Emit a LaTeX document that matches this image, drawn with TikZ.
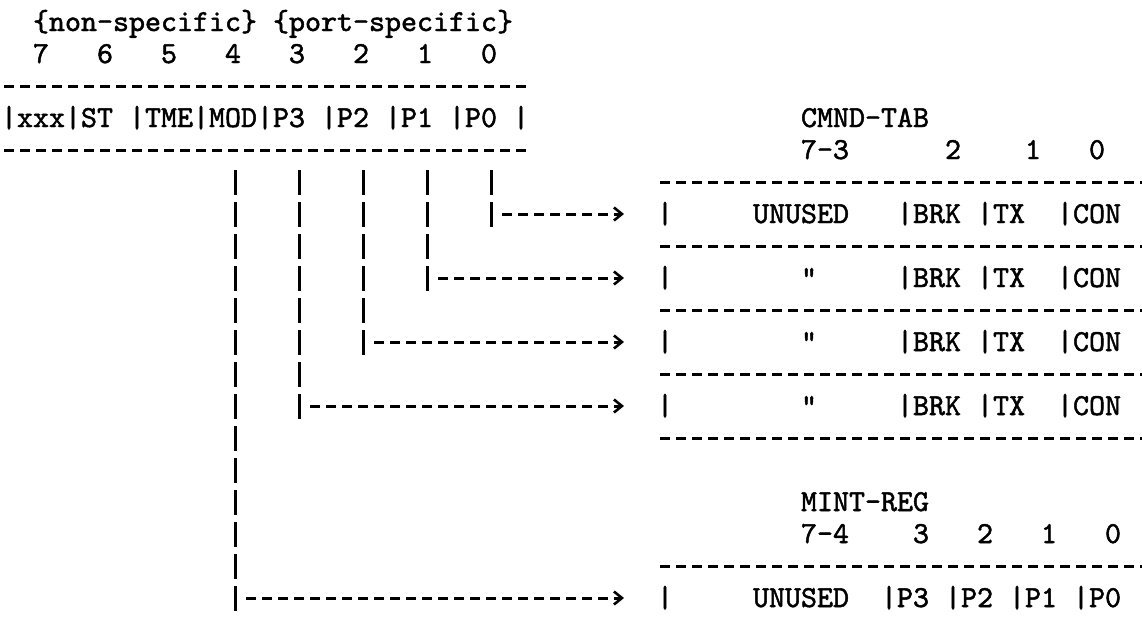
\documentclass[tikz,border=0pt]{standalone}
\usepackage{fontspec}
\newfontfamily\twfont{lmmono10-regular.otf}[FakeBold=1.6]
\usetikzlibrary{arrows.meta,calc}
\newcommand\txt[4]{\node[tt] (#4) at ({16*#1+1},{31+32*#2}) {#3};}
\newcommand\gap[1]{\hspace*{#1\fontcharwd\font`M}}
\begin{document}
\begin{tikzpicture}[x=1pt,y=-1pt,
  tt/.style={inner sep=0pt, outer sep=0pt, text height=18pt, text depth=0pt,
    anchor=base west, font=\twfont\fontsize{30.48}{32}\selectfont},
  vbar/.style={line width=3pt, dash pattern=on 25pt off 7pt},
  hrule/.style={line width=3pt, dash pattern=on 10pt off 6pt},
  conn/.style={hrule, -{Straight Barb[length=8pt,width=13pt,line width=2.6pt]}}]
\useasboundingbox (0,0) rectangle (1142,624);
\fill[white] (0,0) rectangle (1142,624);

% ---- register (left)
\txt{2}{0}{\{non-specific\}\gap{1}\{port-specific\}}{hdr}
\foreach \c/\d in {2/7,6/6,10/5,14/4,18/3,22/2,26/1,30/0}
  {\txt{\c}{1}{\d}{bit\d}}
\draw[hrule] (4,86) -- (527,86);
\txt{0}{3}{|xxx}{fx}
\txt{4}{3}{|ST}{fst}
\txt{8}{3}{|TME}{ftme}
\txt{12}{3}{|MOD}{fmod}
\txt{16}{3}{|P3}{fp3}
\txt{20}{3}{|P2}{fp2}
\txt{24}{3}{|P1}{fp1}
\txt{28}{3}{|P0}{fp0}
\txt{32}{3}{|}{fend}
\draw[hrule] (4,150) -- (527,150);

% ---- CMND-TAB
\txt{50}{3}{CMND-TAB}{cmnd}
\txt{50}{4}{7-3}{c73}
\txt{59}{4}{2}{c2}
\txt{64}{4}{1}{c1}
\txt{68}{4}{0}{c0}
\foreach \L in {5,7,9,11,13}
  {\draw[hrule] (660,{22+32*\L}) -- (1142,{22+32*\L});}
\txt{41}{6}{|\gap{5}UNUSED\gap{3}|BRK\gap{1}|TX\gap{2}|CON}{cr1}
\txt{41}{8}{|\gap{8}"\gap{5}|BRK\gap{1}|TX\gap{2}|CON}{cr2}
\txt{41}{10}{|\gap{8}"\gap{5}|BRK\gap{1}|TX\gap{2}|CON}{cr3}
\txt{41}{12}{|\gap{8}"\gap{5}|BRK\gap{1}|TX\gap{2}|CON}{cr4}

% ---- MINT-REG
\txt{50}{15}{MINT-REG}{mint}
\txt{50}{16}{7-4}{m74}
\txt{57}{16}{3}{m3}
\txt{61}{16}{2}{m2}
\txt{65}{16}{1}{m1}
\txt{69}{16}{0}{m0}
\draw[hrule] (660,{22+32*17}) -- (1142,{22+32*17});
\txt{41}{18}{|\gap{5}UNUSED\gap{2}|P3\gap{1}|P2\gap{1}|P1\gap{1}|P0}{mr}

% ---- connectors
\coordinate (bartop) at (0,170);
\coordinate (b0) at ($(fp0.west)+(42,0)$);
\coordinate (b1) at ($(fp1.west)+(42,0)$);
\coordinate (b2) at ($(fp2.west)+(42,0)$);
\coordinate (b3) at ($(fp3.west)+(42,0)$);
\coordinate (b4) at ($(fmod.west)+(42,0)$);
\foreach \b/\r in {b0/cr1,b1/cr2,b2/cr3,b3/cr4,b4/mr}{
  \draw[vbar] (\b |- bartop) -- ($(\b |- \r.west)+(0,13)$);
  \draw[conn] ($(\b |- \r.west)+(11,0)$) -- ($(\r.west)+(-33,0)$);
}
\end{tikzpicture}
\end{document}
